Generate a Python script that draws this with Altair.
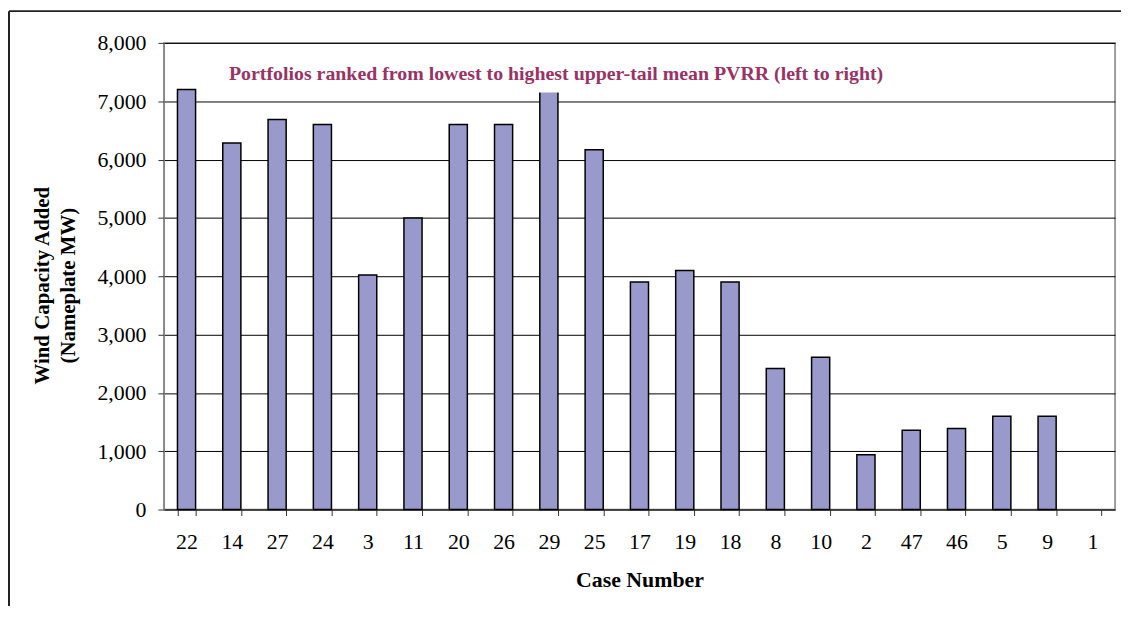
import altair as alt
import pandas as pd

cases = ["22", "14", "27", "24", "3", "11", "20", "26", "29", "25", "17",
         "19", "18", "8", "10", "2", "47", "46", "5", "9", "1"]
wind_mw = [7200, 6285, 6685, 6600, 4020, 5000, 6600, 6600, 7450, 6170, 3900,
           4100, 3900, 2420, 2610, 940, 1360, 1390, 1600, 1600, 0]
y_ticks = [0, 1000, 2000, 3000, 4000, 5000, 6000, 7000, 8000]
note = "Portfolios ranked from lowest to highest upper-tail mean PVRR  (left to right)"

df = pd.DataFrame({"case": cases, "mw": wind_mw})
one = alt.Data(values=[{}])

SERIF = "Liberation Serif"

bars = alt.Chart(df).mark_bar(
    fill="#9999CC", stroke="black", strokeWidth=1.5
).encode(
    x=alt.X("case:N", sort=cases,
            scale=alt.Scale(paddingInner=0.6, paddingOuter=0.3),
            axis=alt.Axis(title="Case Number", labelAngle=0, tickBand="extent",
                          labelFont=SERIF, labelFontSize=22, labelColor="black",
                          labelPadding=16, tickSize=6, tickColor="#333",
                          domainColor="#333", titleFont=SERIF, titleFontSize=22,
                          titleFontWeight="bold", titleColor="black",
                          titlePadding=18, grid=False)),
    y=alt.Y("mw:Q", scale=alt.Scale(domain=[0, 8000], nice=False),
            axis=alt.Axis(title=["Wind Capacity Added", "(Nameplate MW)"],
                          values=y_ticks, format=",.0f", labelFont=SERIF,
                          labelFontSize=22, labelColor="black", labelPadding=12,
                          tickSize=6, tickColor="#333", domainColor="#808080",
                          gridColor="black", gridWidth=1,
                          titleFont=SERIF, titleFontSize=21,
                          titleFontWeight="bold", titleColor="black",
                          titleX=-112, titleY=244, titleAlign="center",
                          titleBaseline="bottom", titleLineHeight=26)),
    strokeOpacity=alt.condition("datum.mw > 0", alt.value(1), alt.value(0)),
)

note_bg = alt.Chart(one).mark_rect(fill="white").encode(
    x=alt.value(65), x2=alt.value(723), y=alt.value(19), y2=alt.value(50)
)
note_text = alt.Chart(one).mark_text(
    font=SERIF, fontSize=20, fontWeight="bold", color="#993366",
    align="center", baseline="middle"
).encode(x=alt.value(395), y=alt.value(31), text=alt.value(note))

frame_top = alt.Chart(one).mark_rule(color="#222", strokeWidth=2).encode(
    x=alt.value(-156), x2=alt.value(975), y=alt.value(-32)
)
frame_left = alt.Chart(one).mark_rule(color="#222", strokeWidth=2).encode(
    x=alt.value(-156), y=alt.value(-32), y2=alt.value(570)
)

chart = alt.layer(bars, note_bg, note_text, frame_top, frame_left).properties(
    width=958, height=470,
    autosize=alt.AutoSizeParams(type="none"),
    padding={"left": 157, "top": 33, "right": 6, "bottom": 95},
).configure_view(stroke="#808080", strokeWidth=1.5)

chart.save("out.html", embed_options={"renderer": "svg", "actions": False})
